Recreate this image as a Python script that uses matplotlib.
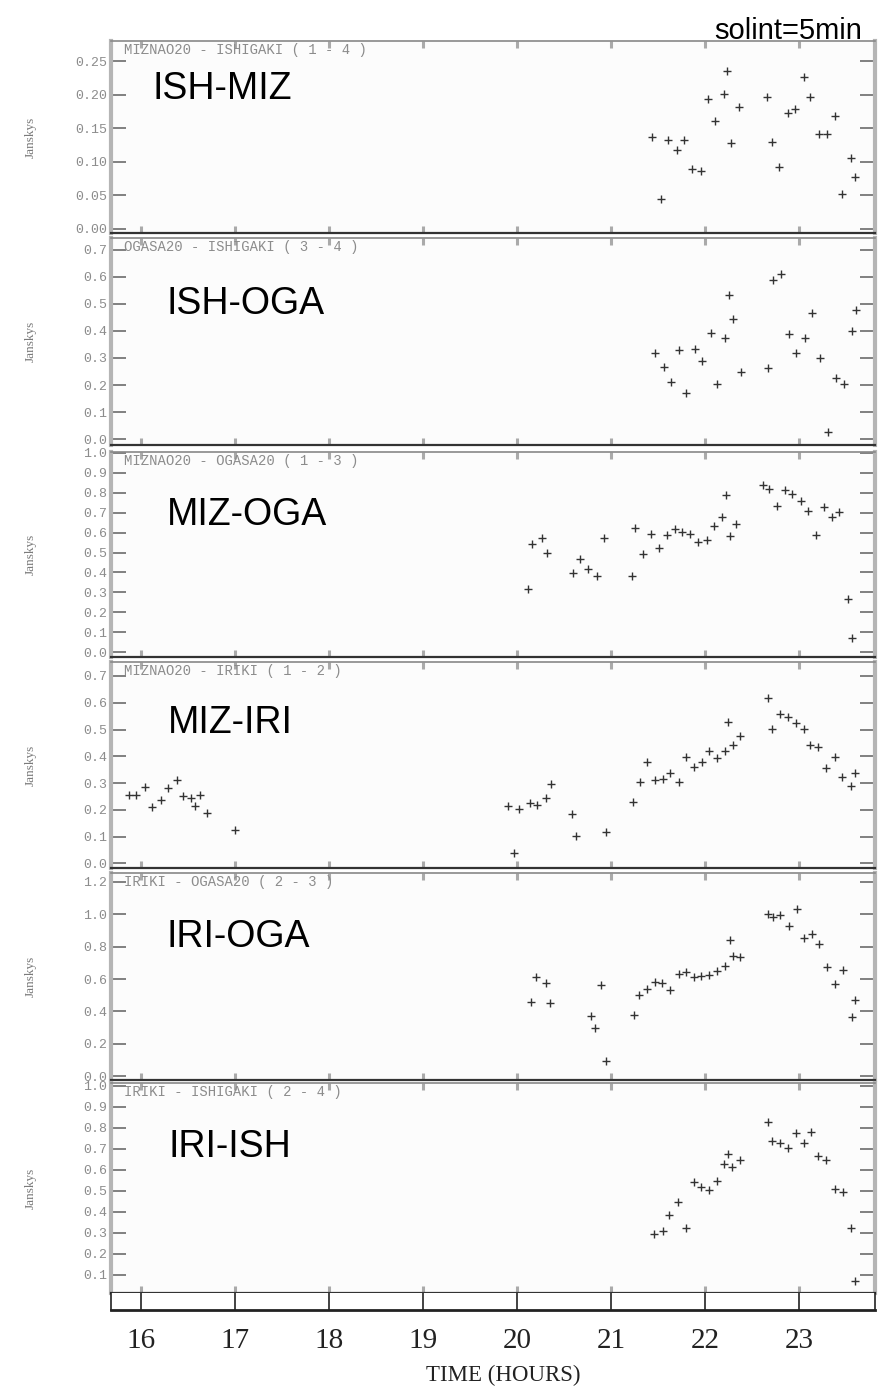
import matplotlib
matplotlib.use("Agg")
import matplotlib.pyplot as plt

W, H = 894, 1389

# ---- data: time (hours) and amplitude (Jy) per baseline ----
t_ish_miz = [21.44, 21.53, 21.61, 21.70, 21.78, 21.86, 21.96, 22.03, 22.11, 22.20, 22.24, 22.28, 22.36,
             22.66, 22.71, 22.79, 22.88, 22.96, 23.05, 23.12, 23.21, 23.30, 23.38, 23.46, 23.55, 23.60]
v_ish_miz = [0.137, 0.044, 0.133, 0.117, 0.133, 0.089, 0.087, 0.193, 0.161, 0.201, 0.236, 0.128, 0.182,
             0.196, 0.130, 0.092, 0.173, 0.179, 0.227, 0.196, 0.141, 0.141, 0.168, 0.052, 0.105, 0.077]

t_ish_oga = [21.47, 21.56, 21.64, 21.72, 21.80, 21.89, 21.97, 22.06, 22.13, 22.21, 22.26, 22.30, 22.38,
             22.67, 22.72, 22.81, 22.89, 22.97, 23.06, 23.14, 23.22, 23.31, 23.39, 23.48, 23.56, 23.61]
v_ish_oga = [0.317, 0.268, 0.211, 0.329, 0.170, 0.333, 0.289, 0.394, 0.202, 0.373, 0.533, 0.443, 0.249,
             0.264, 0.588, 0.610, 0.390, 0.320, 0.374, 0.466, 0.299, 0.025, 0.226, 0.204, 0.400, 0.478]

t_miz_oga = [20.12, 20.16, 20.27, 20.32, 20.60, 20.67, 20.76, 20.85, 20.93,
             21.22, 21.26, 21.34, 21.43, 21.51, 21.60, 21.68, 21.76, 21.84, 21.93, 22.02, 22.10, 22.18,
             22.22, 22.27, 22.33, 22.62, 22.68, 22.77, 22.85, 22.93, 23.02, 23.10, 23.18, 23.27, 23.35,
             23.43, 23.52, 23.57]
v_miz_oga = [0.317, 0.541, 0.575, 0.497, 0.397, 0.467, 0.417, 0.382, 0.571,
             0.380, 0.623, 0.494, 0.593, 0.523, 0.590, 0.617, 0.603, 0.595, 0.554, 0.564, 0.633, 0.677,
             0.789, 0.583, 0.642, 0.841, 0.821, 0.732, 0.812, 0.792, 0.760, 0.708, 0.586, 0.729, 0.680,
             0.704, 0.268, 0.069]

t_miz_iri = [15.87, 15.95, 16.04, 16.12, 16.21, 16.29, 16.38, 16.45, 16.53, 16.57, 16.63, 16.70, 17.00,
             19.90, 19.97, 20.02, 20.14, 20.21, 20.31, 20.36, 20.59, 20.63, 20.95,
             21.24, 21.31, 21.38, 21.47, 21.55, 21.63, 21.72, 21.80, 21.88, 21.97, 22.04, 22.13, 22.21,
             22.25, 22.30, 22.37, 22.67, 22.71, 22.80, 22.88, 22.97, 23.05, 23.12, 23.20, 23.29, 23.38,
             23.46, 23.55, 23.60]
v_miz_iri = [0.256, 0.256, 0.285, 0.211, 0.237, 0.282, 0.310, 0.252, 0.244, 0.215, 0.256, 0.187, 0.125,
             0.215, 0.038, 0.202, 0.225, 0.218, 0.246, 0.297, 0.185, 0.103, 0.119,
             0.228, 0.303, 0.380, 0.310, 0.315, 0.338, 0.304, 0.396, 0.359, 0.378, 0.419, 0.395, 0.420,
             0.527, 0.443, 0.477, 0.619, 0.503, 0.557, 0.546, 0.523, 0.502, 0.442, 0.436, 0.356, 0.399,
             0.324, 0.289, 0.337]

t_iri_oga = [20.15, 20.20, 20.31, 20.35, 20.79, 20.83, 20.89, 20.95,
             21.25, 21.30, 21.38, 21.47, 21.54, 21.63, 21.72, 21.80, 21.88, 21.96, 22.04, 22.13, 22.21,
             22.27, 22.30, 22.37, 22.67, 22.72, 22.80, 22.89, 22.98, 23.05, 23.14, 23.21, 23.30, 23.38,
             23.47, 23.56, 23.60]
v_iri_oga = [0.457, 0.613, 0.574, 0.455, 0.373, 0.297, 0.563, 0.095,
             0.379, 0.504, 0.539, 0.580, 0.574, 0.533, 0.631, 0.645, 0.613, 0.621, 0.625, 0.651, 0.680,
             0.842, 0.742, 0.734, 1.000, 0.980, 0.996, 0.929, 1.031, 0.855, 0.876, 0.814, 0.672, 0.571,
             0.654, 0.365, 0.473]

t_iri_ish = [21.46, 21.55, 21.62, 21.71, 21.80, 21.88, 21.96, 22.04, 22.13, 22.20, 22.25, 22.29, 22.37,
             22.67, 22.71, 22.80, 22.88, 22.97, 23.05, 23.13, 23.20, 23.29, 23.38, 23.47, 23.55, 23.60]
v_iri_ish = [0.295, 0.310, 0.386, 0.446, 0.325, 0.544, 0.518, 0.503, 0.549, 0.629, 0.676, 0.616, 0.648,
             0.830, 0.738, 0.727, 0.705, 0.775, 0.727, 0.782, 0.667, 0.646, 0.510, 0.495, 0.325, 0.071]

short_names = ["ISH-MIZ", "ISH-OGA", "MIZ-OGA", "MIZ-IRI", "IRI-OGA", "IRI-ISH"]
headers = ["MIZNAO20 - ISHIGAKI ( 1 - 4 )", "OGASA20 - ISHIGAKI ( 3 - 4 )",
           "MIZNAO20 - OGASA20 ( 1 - 3 )", "MIZNAO20 - IRIKI ( 1 - 2 )",
           "IRIKI - OGASA20 ( 2 - 3 )", "IRIKI - ISHIGAKI ( 2 - 4 )"]
yticks_list = [[0.00, 0.05, 0.10, 0.15, 0.20, 0.25],
               [0.0, 0.1, 0.2, 0.3, 0.4, 0.5, 0.6, 0.7],
               [0.0, 0.1, 0.2, 0.3, 0.4, 0.5, 0.6, 0.7, 0.8, 0.9, 1.0],
               [0.0, 0.1, 0.2, 0.3, 0.4, 0.5, 0.6, 0.7],
               [0.0, 0.2, 0.4, 0.6, 0.8, 1.0, 1.2],
               [0.1, 0.2, 0.3, 0.4, 0.5, 0.6, 0.7, 0.8, 0.9, 1.0]]
ytick_fmt = ["%.2f", "%.1f", "%.1f", "%.1f", "%.1f", "%.1f"]
hours = [16, 17, 18, 19, 20, 21, 22, 23]

series = [(t_ish_miz, v_ish_miz), (t_ish_oga, v_ish_oga), (t_miz_oga, v_miz_oga),
          (t_miz_iri, v_miz_iri), (t_iri_oga, v_iri_oga), (t_iri_ish, v_iri_ish)]

# layout in pixels: (top, bottom) of each panel, y limits
panel_px = [(41, 233), (238, 445), (452, 657), (662, 868), (873, 1080), (1083, 1293)]
ylims = [(-0.006, 0.280), (-0.022, 0.744), (-0.025, 1.005), (-0.017, 0.752), (-0.022, 1.253), (0.014, 1.014)]
label_y = [89, 304, 515, 723, 937, 1147]
label_x = [153, 167, 167, 168, 167, 168]
XL, XR = 111, 875
xlim = (15.68, 23.81)

GRAY = "#8c8c8c"
MONO = "Liberation Mono"


def box(top, bottom):
    return [XL / W, 1 - bottom / H, (XR - XL) / W, (bottom - top) / H]


fig = plt.figure(figsize=(W / 100, H / 100), dpi=100)
fig.patch.set_facecolor("white")

for i, (t, v) in enumerate(series):
    top, bottom = panel_px[i]
    ax = fig.add_axes(box(top, bottom))
    ax.set_facecolor("#fcfcfc")
    ax.plot(t, v, ls="none", marker="+", ms=6, mew=1.0, color="#333333")
    ax.set_xlim(*xlim)
    ax.set_ylim(*ylims[i])

    ax.set_yticks(yticks_list[i])
    ax.set_yticklabels([ytick_fmt[i] % y for y in yticks_list[i]],
                       family=MONO, fontsize=9.5, color=GRAY)
    ax.tick_params(axis="y", direction="in", length=11, width=1.3, color="#777777",
                   left=True, right=True, pad=3)
    ax.set_xticks(hours)
    ax.tick_params(axis="x", direction="in", length=5, width=2.2, color="#aaaaaa",
                   top=True, bottom=True, labelbottom=False)

    ax.spines["left"].set_color("#b5b5b5")
    ax.spines["left"].set_linewidth(3)
    ax.spines["right"].set_color("#b5b5b5")
    ax.spines["right"].set_linewidth(3)
    ax.spines["top"].set_color("#888888")
    ax.spines["top"].set_linewidth(1.2)
    ax.spines["bottom"].set_color("#333333")
    ax.spines["bottom"].set_linewidth(1.6)

    # header written by the plotting package
    fig.text(124 / W, 1 - (top + 9) / H, headers[i], family=MONO, fontsize=10,
             color=GRAY, va="center", ha="left")
    # big baseline label
    fig.text(label_x[i] / W, 1 - label_y[i] / H, short_names[i], family="Liberation Sans",
             fontsize=27, color="black", va="center", ha="left")
    fig.text(31 / W, 1 - (top + bottom) / 2 / H, "Janskys", family="Liberation Serif",
             fontsize=9.5, color="#7a7a7a", rotation=90, va="center", ha="center")

# bottom strip carrying the time axis
axb = fig.add_axes(box(1293, 1310))
axb.set_facecolor("white")
axb.set_xlim(*xlim)
axb.set_ylim(0, 1)
axb.set_yticks([])
axb.set_xticks(hours)
axb.set_xticklabels([str(h) for h in hours], family="Liberation Serif",
                    fontsize=21, color="#222222")
axb.tick_params(axis="x", direction="in", length=12.2, width=1.2, color="#222222", pad=13)
axb.spines["top"].set_visible(False)
for s in ("left", "right"):
    axb.spines[s].set_color("#222222")
    axb.spines[s].set_linewidth(1.2)
axb.spines["bottom"].set_color("#222222")
axb.spines["bottom"].set_linewidth(2)

fig.text(503 / W, 1 - 1375 / H, "TIME (HOURS)", family="Liberation Serif",
         fontsize=16.5, color="#222222", va="center", ha="center")
fig.text(862 / W, 1 - 31 / H, "solint=5min", family="Liberation Sans", fontsize=21,
         color="black", va="center", ha="right")

fig.savefig("out.png", dpi=100)
